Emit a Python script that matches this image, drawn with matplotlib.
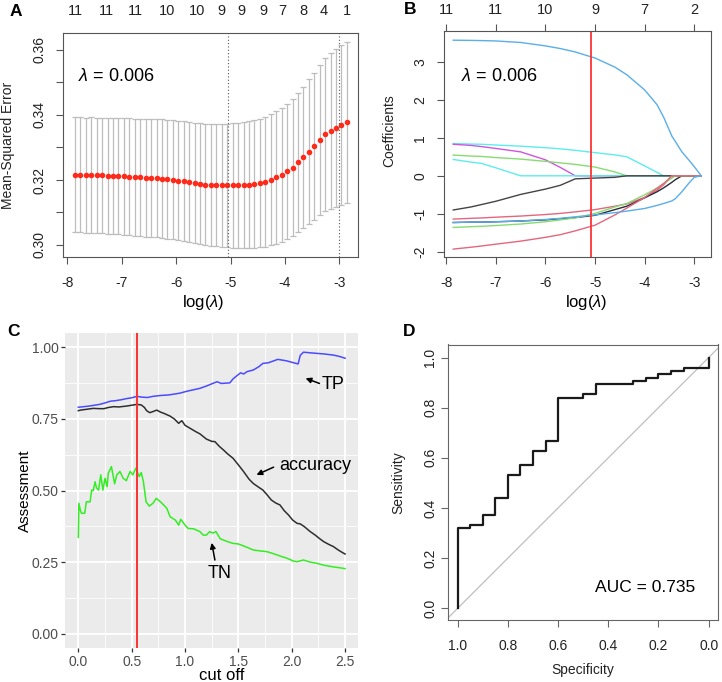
import numpy as np
import matplotlib
matplotlib.use('Agg')
import matplotlib.pyplot as plt
from matplotlib.transforms import blended_transform_factory

plt.rcParams['font.family'] = ['Liberation Sans', 'DejaVu Sans']
plt.rcParams['mathtext.fontset'] = 'custom'
plt.rcParams['mathtext.rm'] = 'Liberation Sans'
plt.rcParams['mathtext.it'] = 'Liberation Sans:italic'

# ---------------- data ----------------
# Panel A: cross-validated MSE
a_loglam = [-7.86, -7.76, -7.66, -7.56, -7.46, -7.36, -7.26, -7.16, -7.06, -6.96,
            -6.86, -6.76, -6.66, -6.56, -6.46, -6.36, -6.26, -6.16, -6.06, -5.96,
            -5.86, -5.76, -5.66, -5.56, -5.46, -5.36, -5.26, -5.16, -5.06, -4.96,
            -4.86, -4.76, -4.66, -4.56, -4.46, -4.36, -4.26, -4.16, -4.06, -3.96,
            -3.86, -3.76, -3.66, -3.56, -3.46, -3.36, -3.26, -3.16, -3.06, -2.96, -2.86]
a_mse = [0.3216, 0.3216, 0.3215, 0.3215, 0.3214, 0.3214, 0.3213, 0.3212, 0.3212, 0.3211,
         0.3210, 0.3209, 0.3208, 0.3207, 0.3206, 0.3205, 0.3204, 0.3202, 0.3200, 0.3198,
         0.3196, 0.3193, 0.3190, 0.3188, 0.3186, 0.3185, 0.3184, 0.3183, 0.3183, 0.3183,
         0.3184, 0.3185, 0.3186, 0.3188, 0.3191, 0.3195, 0.3201, 0.3208, 0.3216, 0.3226,
         0.3238, 0.3254, 0.3270, 0.3287, 0.3303, 0.3322, 0.3340, 0.3352, 0.3360, 0.3370, 0.3377]
a_se = [0.0177, 0.0177, 0.0177, 0.0178, 0.0178, 0.0178, 0.0178, 0.0179, 0.0179, 0.0179,
        0.0180, 0.0180, 0.0180, 0.0181, 0.0181, 0.0182, 0.0182, 0.0183, 0.0183, 0.0184,
        0.0184, 0.0185, 0.0185, 0.0186, 0.0186, 0.0187, 0.0188, 0.0189, 0.0190, 0.0191,
        0.0192, 0.0193, 0.0194, 0.0196, 0.0198, 0.0200, 0.0202, 0.0204, 0.0206, 0.0208,
        0.0210, 0.0214, 0.0217, 0.0222, 0.0226, 0.0231, 0.0235, 0.0240, 0.0243, 0.0246, 0.0248]
a_df_pos = [-7.86, -7.29, -6.75, -6.17, -5.62, -5.16, -4.79, -4.40, -4.04, -3.66, -3.29, -2.86]
a_df_lab = ['11', '11', '11', '10', '10', '9', '9', '9', '7', '8', '4', '1']
lam_min_log = -5.05
lam_1se_log = -3.0

# Panel B: coefficient paths
b_loglam = [-7.86, -7.5, -7.3, -7.0, -6.5, -6.0, -5.7, -5.4, -5.0, -4.6,
            -4.36, -4.0, -3.75, -3.62, -3.45, -3.38, -3.25, -3.1, -3.0, -2.86]
b_blue1 = [3.57, 3.565, 3.56, 3.55, 3.51, 3.42, 3.35, 3.26, 3.10, 2.86,
           2.66, 2.26, 1.87, 1.55, 1.04, 0.90, 0.63, 0.40, 0.24, 0.0]
b_cyan1 = [0.85, 0.835, 0.83, 0.81, 0.78, 0.74, 0.71, 0.67, 0.61, 0.55,
           0.50, 0.26, 0.09, 0.0, 0.0, 0.0, 0.0, 0.0, 0.0, 0.0]
b_magenta = [0.83, 0.80, 0.77, 0.72, 0.63, 0.42, 0.22, 0.0, 0.0, 0.0,
             0.0, 0.0, 0.0, 0.0, 0.0, 0.0, 0.0, 0.0, 0.0, 0.0]
b_green1 = [0.545, 0.52, 0.51, 0.48, 0.44, 0.38, 0.34, 0.30, 0.23, 0.10,
            0.0, 0.0, 0.0, 0.0, 0.0, 0.0, 0.0, 0.0, 0.0, 0.0]
b_cyan2 = [0.43, 0.36, 0.33, 0.21, 0.0, 0.0, 0.0, 0.0, 0.0, 0.0,
           0.0, 0.0, 0.0, 0.0, 0.0, 0.0, 0.0, 0.0, 0.0, 0.0]
b_black1 = [-0.90, -0.82, -0.76, -0.67, -0.49, -0.35, -0.25, -0.08, -0.06, -0.04,
            0.0, 0.0, 0.0, 0.0, 0.0, 0.0, 0.0, 0.0, 0.0, 0.0]
b_pink1 = [-1.14, -1.12, -1.11, -1.09, -1.06, -1.02, -0.99, -0.95, -0.89, -0.80,
           -0.74, -0.57, -0.38, -0.24, 0.0, 0.0, 0.0, 0.0, 0.0, 0.0]
b_black2 = [-1.23, -1.22, -1.22, -1.21, -1.19, -1.16, -1.13, -1.10, -1.04, -0.89,
            -0.80, -0.58, -0.42, -0.32, -0.17, -0.10, 0.0, 0.0, 0.0, 0.0]
b_green2 = [-1.36, -1.34, -1.33, -1.31, -1.27, -1.21, -1.16, -1.11, -0.99, -0.82,
            -0.73, -0.50, -0.32, -0.20, -0.06, 0.0, 0.0, 0.0, 0.0, 0.0]
b_pink2 = [-1.93, -1.88, -1.85, -1.80, -1.72, -1.62, -1.55, -1.45, -1.30, -1.03,
           -0.85, -0.57, -0.33, -0.21, 0.0, 0.0, 0.0, 0.0, 0.0, 0.0]
b_blue2 = [-1.23, -1.22, -1.22, -1.21, -1.19, -1.15, -1.12, -1.08, -1.03, -0.97,
           -0.93, -0.86, -0.78, -0.73, -0.66, -0.60, -0.42, -0.18, -0.04, 0.0]
b_df_pos = [-8, -7, -6, -5, -4, -3]
b_df_lab = ['11', '11', '10', '9', '7', '2']

# Panel C: assessment vs cut off
c_tp_x = [0.00, 0.05, 0.10, 0.15, 0.20, 0.25, 0.30, 0.35, 0.40, 0.45, 0.50, 0.55, 0.60, 0.65,
          0.70, 0.77, 0.85, 0.95, 1.02, 1.08, 1.14, 1.20, 1.26, 1.30, 1.34, 1.42, 1.45, 1.50,
          1.52, 1.55, 1.58, 1.64, 1.69, 1.73, 1.78, 1.87, 1.95, 2.06, 2.08, 2.11, 2.20, 2.30,
          2.39, 2.45, 2.50]
c_tp_y = [0.791, 0.793, 0.795, 0.798, 0.801, 0.806, 0.812, 0.814, 0.817, 0.821, 0.824, 0.829,
          0.826, 0.825, 0.829, 0.832, 0.834, 0.840, 0.847, 0.852, 0.857, 0.865, 0.874, 0.880,
          0.874, 0.876, 0.890, 0.905, 0.911, 0.907, 0.915, 0.921, 0.932, 0.944, 0.946, 0.958,
          0.953, 0.942, 0.972, 0.983, 0.980, 0.977, 0.973, 0.968, 0.962]
c_acc_x = [0.00, 0.02, 0.08, 0.14, 0.20, 0.24, 0.28, 0.33, 0.38, 0.45, 0.50, 0.55, 0.59, 0.62,
           0.64, 0.67, 0.70, 0.735, 0.77, 0.80, 0.86, 0.90, 0.94, 0.97, 1.00, 1.05, 1.10, 1.14,
           1.20, 1.25, 1.28, 1.32, 1.36, 1.40, 1.45, 1.50, 1.55, 1.60, 1.64, 1.69, 1.73, 1.77,
           1.81, 1.85, 1.89, 1.93, 1.97, 2.01, 2.05, 2.08, 2.12, 2.17, 2.22, 2.26, 2.30, 2.35,
           2.39, 2.44, 2.48, 2.50]
c_acc_y = [0.779, 0.781, 0.784, 0.787, 0.786, 0.786, 0.790, 0.793, 0.792, 0.795, 0.798, 0.801,
           0.799, 0.790, 0.779, 0.772, 0.776, 0.781, 0.774, 0.770, 0.760, 0.750, 0.735, 0.744,
           0.728, 0.717, 0.706, 0.698, 0.680, 0.672, 0.671, 0.655, 0.642, 0.628, 0.613, 0.590,
           0.566, 0.540, 0.525, 0.512, 0.502, 0.485, 0.467, 0.457, 0.450, 0.430, 0.415, 0.397,
           0.386, 0.384, 0.374, 0.358, 0.345, 0.333, 0.322, 0.312, 0.305, 0.292, 0.283, 0.279]
c_tn_x = [0.00, 0.005, 0.02, 0.03, 0.06, 0.075, 0.11, 0.125, 0.14, 0.157, 0.17, 0.19, 0.21,
          0.23, 0.25, 0.27, 0.28, 0.31, 0.34, 0.36, 0.39, 0.42, 0.45, 0.485, 0.51, 0.54, 0.57,
          0.59, 0.61, 0.635, 0.665, 0.70, 0.73, 0.77, 0.80, 0.83, 0.86, 0.91, 0.94, 0.96, 1.00,
          1.03, 1.08, 1.14, 1.17, 1.20, 1.23, 1.26, 1.29, 1.33, 1.40, 1.45, 1.50, 1.57, 1.64,
          1.70, 1.77, 1.83, 1.89, 1.95, 2.02, 2.05, 2.11, 2.17, 2.23, 2.30, 2.39, 2.45, 2.50]
c_tn_y = [0.337, 0.456, 0.430, 0.421, 0.421, 0.461, 0.461, 0.502, 0.500, 0.531, 0.510, 0.502,
          0.555, 0.502, 0.543, 0.514, 0.560, 0.584, 0.524, 0.555, 0.567, 0.543, 0.535, 0.567,
          0.555, 0.579, 0.549, 0.563, 0.531, 0.461, 0.446, 0.456, 0.473, 0.461, 0.450, 0.438,
          0.409, 0.397, 0.380, 0.400, 0.380, 0.368, 0.367, 0.357, 0.345, 0.345, 0.357, 0.352,
          0.357, 0.332, 0.322, 0.316, 0.314, 0.304, 0.293, 0.290, 0.287, 0.280, 0.272, 0.265,
          0.254, 0.252, 0.258, 0.251, 0.247, 0.240, 0.234, 0.231, 0.228]
c_cutoff = 0.547

# Panel D: ROC steps
d_spec_steps = [1.0, 0.95, 0.90, 0.85, 0.80, 0.75, 0.70, 0.65, 0.60, 0.50, 0.45, 0.30,
                0.25, 0.20, 0.15, 0.10, 0.0]
d_sens_steps = [0.320, 0.333, 0.373, 0.440, 0.533, 0.573, 0.627, 0.667, 0.840, 0.853,
                0.893, 0.907, 0.920, 0.933, 0.947, 0.960, 1.0]
d_auc = 0.735

# ---------------- figure ----------------
W, H = 722, 682
fig = plt.figure(figsize=(W / 100, H / 100), dpi=100)


def box(l, t, r, b):
    return [l / W, 1 - b / H, (r - l) / W, (b - t) / H]


def rstyle(ax, col='#555555'):
    for s in ax.spines.values():
        s.set_color(col)
        s.set_linewidth(0.8)
    ax.tick_params(direction='out', length=5, width=0.8, color=col,
                   labelsize=10, labelcolor='#222222')


# ---- Panel A ----
axA = fig.add_axes(box(63, 33, 358, 257))
rstyle(axA)
axA.errorbar(a_loglam, a_mse, yerr=a_se, fmt='none', ecolor='#BDBDBD',
             elinewidth=0.9, capsize=2.2, capthick=0.9)
axA.plot(a_loglam, a_mse, 'o', color='#FF2A1A', markersize=4.0, markeredgewidth=0)
axA.axvline(lam_min_log, color='#555555', lw=0.8, ls=(0, (1, 2)))
axA.axvline(lam_1se_log, color='#555555', lw=0.8, ls=(0, (1, 2)))
axA.set_xlim(-8.08, -2.656)
axA.set_ylim(0.2963, 0.3652)
axA.set_xticks([-8, -7, -6, -5, -4, -3])
axA.set_xticklabels(['-8', '-7', '-6', '-5', '-4', '-3'])
axA.set_yticks([0.30, 0.31, 0.32, 0.33, 0.34, 0.35, 0.36])
axA.set_yticklabels(['0.30', '', '0.32', '', '0.34', '', '0.36'], rotation=90, va='center')
axA.tick_params(axis='x', pad=9)
axA.tick_params(axis='y', pad=7)
trA = blended_transform_factory(axA.transData, axA.transAxes)
for p, l in zip(a_df_pos, a_df_lab):
    axA.text(p, 1 + 22 / 224, l, transform=trA, ha='center', va='center', fontsize=10.5,
             color='#222222', clip_on=False)
axA.text(-7.80, 0.3517, r'$\lambda$ = 0.006', fontsize=13, va='center', ha='left')
fig.text(8 / W, 1 - 145 / H, 'Mean-Squared Error', rotation=90, ha='center',
         va='center', fontsize=10, color='#222222')
fig.text(203 / W, 1 - 302 / H, r'log($\lambda$)', ha='center', va='center', fontsize=12)
fig.text(16 / W, 1 - 11 / H, 'A', fontsize=12.5, fontweight='bold', ha='center', va='center')

# ---- Panel B ----
axB = fig.add_axes(box(443.7, 30.7, 711, 256.7))
rstyle(axB)
b_series = [(b_blue1, '#5AAEEA'), (b_cyan1, '#5DEDED'), (b_magenta, '#D055DD'),
            (b_green1, '#86DC72'), (b_cyan2, '#5DEDED'), (b_black1, '#444444'),
            (b_pink1, '#E3677D'), (b_black2, '#2A2A3A'), (b_green2, '#86DC72'),
            (b_pink2, '#E3677D'), (b_blue2, '#5AAEEA')]
for yv, c in b_series:
    axB.plot(b_loglam, yv, color=c, lw=1.0)
axB.axvline(lam_min_log - 0.03, color='#FF3333', lw=1.3)
axB.set_xlim(-8.052, -2.663)
axB.set_ylim(-2.13, 3.82)
axB.set_xticks([-8, -7, -6, -5, -4, -3])
axB.set_xticklabels(['-8', '-7', '-6', '-5', '-4', '-3'])
axB.set_yticks([-2, -1, 0, 1, 2, 3])
axB.set_yticklabels(['-2', '-1', '0', '1', '2', '3'], rotation=90, va='center')
axB.tick_params(axis='x', pad=9, top=True)
axB.tick_params(axis='y', pad=7)
trB = blended_transform_factory(axB.transData, axB.transAxes)
for p, l in zip(b_df_pos, b_df_lab):
    axB.text(p, 1 + 21 / 226, l, transform=trB, ha='center', va='center', fontsize=10.5,
             color='#222222', clip_on=False)
axB.text(-7.70, 2.62, r'$\lambda$ = 0.006', fontsize=13, va='center', ha='left')
fig.text(389 / W, 1 - 131 / H, 'Coefficients', rotation=90, ha='center', va='center',
         fontsize=10, color='#222222')
fig.text(586 / W, 1 - 302 / H, r'log($\lambda$)', ha='center', va='center', fontsize=12)
fig.text(410 / W, 1 - 10 / H, 'B', fontsize=12.5, fontweight='bold', ha='center', va='center')

# ---- Panel C ----
axC = fig.add_axes(box(65, 333, 358.4, 648.3))
axC.set_facecolor('#EBEBEB')
for s in axC.spines.values():
    s.set_visible(False)
axC.set_xlim(-0.125, 2.625)
axC.set_ylim(-0.05, 1.05)
axC.set_xticks([0.0, 0.5, 1.0, 1.5, 2.0, 2.5])
axC.set_xticklabels(['0.0', '0.5', '1.0', '1.5', '2.0', '2.5'])
axC.set_yticks([0.0, 0.25, 0.5, 0.75, 1.0])
axC.set_yticklabels(['0.00', '0.25', '0.50', '0.75', '1.00'])
axC.set_xticks([0.25, 0.75, 1.25, 1.75, 2.25], minor=True)
axC.set_yticks([0.125, 0.375, 0.625, 0.875], minor=True)
axC.grid(which='major', color='white', lw=1.3)
axC.grid(which='minor', color='white', lw=0.6)
axC.set_axisbelow(True)
axC.tick_params(which='major', direction='out', length=3, width=0.9, color='#333333',
                labelsize=10, labelcolor='#4D4D4D', pad=1.5)
axC.tick_params(which='minor', length=0)
axC.plot(c_tp_x, c_tp_y, color='#4B4BFF', lw=1.1)
axC.plot(c_acc_x, c_acc_y, color='#2E2E2E', lw=1.1)
axC.plot(c_tn_x, c_tn_y, color='#33EE22', lw=1.1)
axC.axvline(c_cutoff, color='#FF3030', lw=1.4)
arrow = dict(arrowstyle='-|>', color='black', lw=1.1, mutation_scale=8, shrinkA=0, shrinkB=0)
axC.annotate('', xy=(2.13, 0.892), xytext=(2.26, 0.874), arrowprops=arrow)
axC.text(2.39, 0.872, 'TP', fontsize=13, ha='center', va='center')
axC.annotate('', xy=(1.67, 0.555), xytext=(1.83, 0.582), arrowprops=arrow)
axC.text(2.22, 0.586, 'accuracy', fontsize=13, ha='center', va='center')
axC.annotate('', xy=(1.25, 0.318), xytext=(1.28, 0.258), arrowprops=arrow)
axC.text(1.32, 0.212, 'TN', fontsize=13, ha='center', va='center')
fig.text(25 / W, 1 - 491 / H, 'Assessment', rotation=90, ha='center', va='center', fontsize=11)
fig.text(222 / W, 1 - 675 / H, 'cut off', ha='center', va='center', fontsize=12)
fig.text(14 / W, 1 - 331 / H, 'C', fontsize=12.5, fontweight='bold', ha='center', va='center')

# ---- Panel D ----
axD = fig.add_axes(box(447.7, 344.5, 717.7, 620))
rstyle(axD, '#666666')
xs, ys = [1.0], [0.0]
for sp, se in zip(d_spec_steps, d_sens_steps):
    xs += [sp, sp]
    ys += [ys[-1], se]
axD.plot([1.1, -0.1], [-0.1, 1.1], color='#BFBFBF', lw=0.9)
axD.plot(xs, ys, color='#1A1A1A', lw=1.6)
axD.set_xlim(1.04, -0.036)
axD.set_ylim(-0.047, 1.052)
axD.set_xticks([1.0, 0.8, 0.6, 0.4, 0.2, 0.0])
axD.set_xticklabels(['1.0', '0.8', '0.6', '0.4', '0.2', '0.0'])
axD.set_yticks([0.0, 0.2, 0.4, 0.6, 0.8, 1.0])
axD.set_yticklabels(['0.0', '0.2', '0.4', '0.6', '0.8', '1.0'], rotation=90, va='center')
axD.tick_params(axis='x', pad=9)
axD.tick_params(axis='y', pad=2.5)
axD.text(0.252, 0.081, 'AUC = %.3f' % d_auc, fontsize=12.5, ha='center', va='center')
fig.text(398 / W, 1 - 483 / H, 'Sensitivity', rotation=90, ha='center', va='center',
         fontsize=10, color='#222222')
fig.text(583 / W, 1 - 670 / H, 'Specificity', ha='center', va='center', fontsize=10,
         color='#222222')
fig.text(409 / W, 1 - 331 / H, 'D', fontsize=12.5, fontweight='bold', ha='center', va='center')

fig.savefig('out.png', dpi=100)
